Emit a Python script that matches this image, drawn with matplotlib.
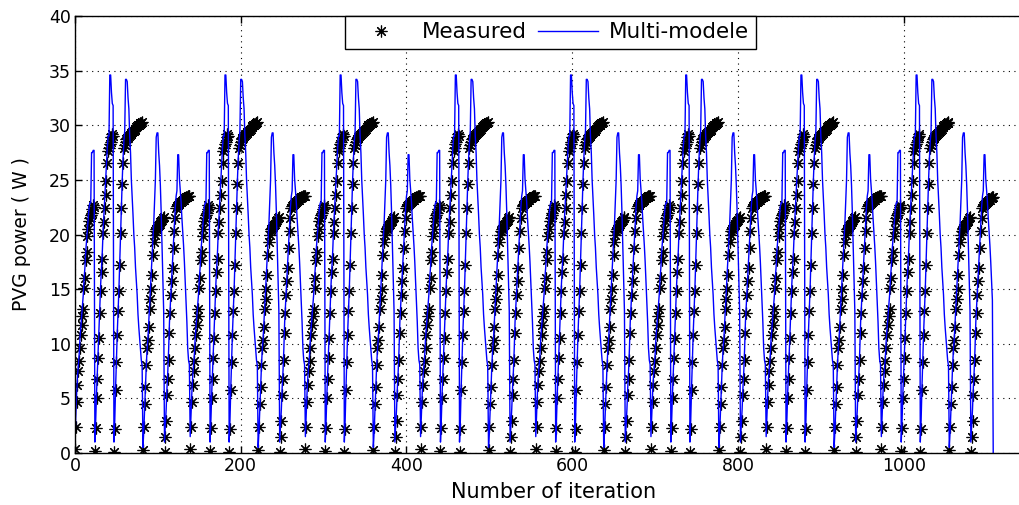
import numpy as np
import matplotlib
matplotlib.use('Agg')
import matplotlib.pyplot as plt

# ---- one daily cycle (139 iterations), five sub-profiles ----
meas_s1 = [0.4, 2.4, 4.7, 6.2, 7.5, 8.4, 9.6, 10.8, 11.7, 12.5, 13.2, 15.1, 16.0, 17.7,
           18.4, 19.9, 20.5, 21.2, 21.5, 21.8, 22.0, 22.3, 22.7, 22.5]
model_s1 = [1.5, 3.5, 5.5, 7.0, 8.0, 9.0, 10.5, 11.5, 12.5, 13.5, 14.5, 16.0, 17.0, 18.5,
            19.5, 20.5, 21.5, 22.5, 22.9, 22.9, 27.5, 27.5, 27.7, 27.7]

meas_s2 = [0.2, 2.3, 5.0, 6.8, 8.7, 10.5, 12.8, 14.8, 16.6, 17.8, 20.1, 21.1, 22.4, 23.6,
           24.9, 26.5, 27.6, 27.9, 28.3, 28.5, 28.9, 29.2, 29.0]
model_s2 = [1.0, 3.0, 5.5, 7.5, 9.5, 11.5, 13.5, 15.5, 17.0, 18.5, 20.5, 22.0, 23.5, 25.0,
            26.5, 28.0, 29.0, 29.0, 34.6, 34.6, 33.0, 32.0, 31.8]

meas_s3 = [0.1, 2.2, 5.8, 8.3, 10.8, 13.0, 14.8, 17.2, 20.1, 22.4, 24.6, 26.5, 27.9,
           28.2, 28.5, 28.7, 28.8, 28.9, 29.0, 29.1, 29.2, 29.3, 29.4, 29.5, 29.5, 29.6,
           29.7, 29.8, 29.9, 30.0, 30.0, 30.1, 30.2, 30.2, 30.3]
model_s3 = [1.0, 3.0, 6.0, 8.5, 11.0, 13.0, 15.0, 17.5, 20.0, 22.5, 25.0, 27.0, 28.5,
            29.5, 34.2, 34.2, 34.0, 32.5, 31.5, 29.0, 27.5, 25.0, 23.5, 21.8, 20.0, 18.8,
            17.0, 15.7, 14.5, 12.7, 11.5, 10.5, 9.6, 8.5, 8.0]

meas_s4 = [0.3, 2.4, 4.5, 6.0, 8.1, 9.6, 10.3, 11.5, 13.2, 14.1, 15.0, 16.3, 18.1, 19.3,
           20.0, 20.3, 20.5, 20.6, 20.8, 20.9, 21.0, 21.1, 21.2, 21.3, 21.5, 21.6]
model_s4 = [0.5, 2.0, 4.0, 6.0, 8.0, 9.5, 10.5, 12.0, 13.5, 15.0, 16.5, 18.0, 19.5, 21.0,
            23.0, 25.0, 28.9, 29.3, 29.3, 27.5, 26.3, 24.5, 22.0, 19.0, 16.0, 13.0]

meas_s5 = [0.1, 1.5, 2.9, 5.3, 6.8, 8.5, 11.0, 12.8, 14.5, 15.7, 16.9, 18.8, 20.3, 21.5,
           22.4, 22.6, 22.7, 22.8, 22.9, 23.0, 23.0, 23.1, 23.2, 23.2, 23.3, 23.3, 23.4,
           23.4, 23.5, 23.5, 23.5]
model_s5 = [1.0, 2.5, 4.0, 6.0, 7.5, 9.5, 12.0, 13.5, 15.0, 16.5, 18.0, 19.5, 21.0, 22.5,
            23.5, 24.0, 27.3, 27.3, 25.1, 24.0, 23.0, 21.5, 20.3, 19.0, 17.5, 15.7, 14.0,
            12.0, 9.6, 8.5, 8.1]

n_periods = 8
last_period_len = 136
final_model_value = 0.0

x_ticks = [0, 200, 400, 600, 800, 1000]
y_ticks = [0, 5, 10, 15, 20, 25, 30, 35, 40]
x_label = "Number of iteration"
y_label = "PVG power ( W )"
series_names = ["Measured", "Multi-modele"]

# ---- build series ----
period_meas = np.concatenate([meas_s1, meas_s2, meas_s3, meas_s4, meas_s5])
period_model = np.concatenate([model_s1, model_s2, model_s3, model_s4, model_s5])
plen = len(period_meas)
n_total = plen * (n_periods - 1) + last_period_len
measured = np.tile(period_meas, n_periods)[:n_total]
model = np.tile(period_model, n_periods)[:n_total].copy()
model[-1] = final_model_value
iterations = np.arange(n_total)

plt.rcParams['font.family'] = ['DejaVu Sans']

fig = plt.figure(figsize=(10.19, 5.05), dpi=100)
# axes extends a little past the right edge of the picture (as in the reference)
ax = fig.add_axes([75 / 1019, 52 / 505, 958 / 1019, 437 / 505])

ax.plot(iterations, measured, linestyle='none', marker=(8, 2, 0), markersize=8.5,
        markeredgecolor='black', markerfacecolor='black', markeredgewidth=0.85,
        label=series_names[0])
ax.plot(iterations, model, color='#0000ff', linewidth=1.0, label=series_names[1])

ax.set_xlim(0, 1156)
ax.set_ylim(0, 40)
ax.set_xticks(x_ticks)
ax.set_yticks(y_ticks)
ax.tick_params(direction='in', top=True, right=True, length=5, width=1,
               labelsize=12.5, colors='black', pad=3)
ax.grid(True, linestyle=(0, (1, 4)), color='black', linewidth=0.8)
for s in ax.spines.values():
    s.set_linewidth(1.0)
    s.set_color('black')

ax.set_xlabel(x_label, fontsize=15, labelpad=5)
ax.set_ylabel(y_label, fontsize=13.5, labelpad=13)

leg = ax.legend(loc='upper center', bbox_to_anchor=(0.496, 1.0), ncol=2,
                fontsize=15.5, frameon=True, fancybox=False, edgecolor='black',
                framealpha=1, borderaxespad=0, handlelength=2.8, columnspacing=0.5,
                handletextpad=0.5, borderpad=0.3)
leg.get_frame().set_linewidth(1.0)

fig.savefig('out.png', dpi=100)
